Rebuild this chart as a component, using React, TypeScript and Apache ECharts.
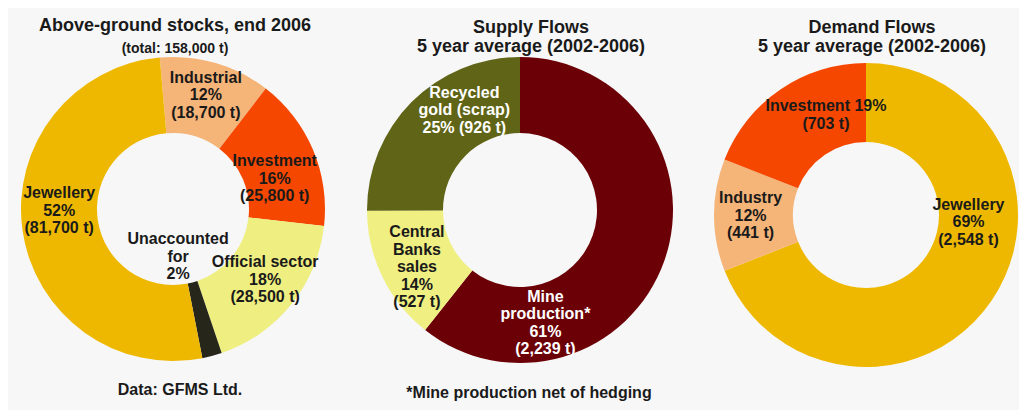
import React, { useEffect, useRef } from 'react';
import * as echarts from 'echarts';

// ---------- DATA ----------
const stocksCategories = ['Industrial', 'Investment', 'Official sector', 'Unaccounted\nfor', 'Jewellery'];
const stocksTonnes = [18700, 25800, 28500, 3300, 81700];
const stocksPercent = [12, 16, 18, 2, 52];
const stocksShowTonnes = [true, true, true, false, true];

const supplyCategories = ['Mine\nproduction*', 'Central\nBanks\nsales', 'Recycled\ngold (scrap)'];
const supplyTonnes = [2239, 527, 926];
const supplyPercent = [61, 14, 25];
const supplyShowTonnes = [true, true, true];

const demandCategories = ['Jewellery', 'Industry', 'Investment'];
const demandTonnes = [2548, 441, 703];
const demandPercent = [69, 12, 19];
const demandShowTonnes = [true, true, true];

const titles = {
  stocks: 'Above-ground stocks, end 2006',
  stocksSub: '(total: 158,000 t)',
  supply: 'Supply Flows\n5 year average (2002-2006)',
  demand: 'Demand Flows\n5 year average (2002-2006)',
  source: 'Data: GFMS Ltd.',
  note: '*Mine production net of hedging',
};

// ---------- STYLE ----------
const FONT = "'Liberation Sans', Arial, Helvetica, sans-serif";
const TEXT = '#1a1a1a';

const stocksColors = ['#f5b478', '#f54700', '#efee80', '#26261a', '#efb800'];
const stocksLabelColors = [TEXT, TEXT, TEXT, TEXT, TEXT];
const stocksPctSep = ['\n', '\n', '\n', '\n', '\n'];
const stocksTonSep = ['\n', '\n', '\n', '\n', '\n'];
const stocksNudge = [[0, -2], [-6, 15], [1, -3], [-25, -66], [2, -15]];

const supplyColors = ['#6b0006', '#efef82', '#5f6416'];
const supplyLabelColors = ['#ffffff', TEXT, '#ffffff'];
const supplyPctSep = ['\n', '\n', '\n'];
const supplyTonSep = ['\n', '\n', ' '];
const supplyNudge = [[-86, 74], [3, 5], [28, -17]];

const demandColors = ['#efb800', '#f5b478', '#f54700'];
const demandLabelColors = [TEXT, TEXT, TEXT];
const demandPctSep = ['\n', '\n', ' '];
const demandTonSep = ['\n', '\n', '\n'];
const demandNudge = [[7, -58], [0, 0], [25, -5]];

const fmt = (v: number) => v.toLocaleString('en-US');

function makePie(
  cats: string[], tonnes: number[], pct: number[], showT: boolean[],
  colors: string[], labelColors: string[], pctSep: string[], tonSep: string[],
  nudge: number[][], center: number[], radius: number[], startAngle: number,
) {
  return {
    type: 'pie',
    center,
    radius,
    startAngle,
    clockwise: true,
    silent: true,
    avoidLabelOverlap: false,
    emphasis: { disabled: true },
    itemStyle: { borderWidth: 0 },
    labelLine: { show: false },
    label: {
      show: true,
      position: 'inside',
      fontFamily: FONT,
      fontSize: 16,
      fontWeight: 'bold',
      lineHeight: 17.5,
      formatter: (p: any) => {
        const i = p.dataIndex;
        let s = cats[i] + pctSep[i] + pct[i] + '%';
        if (showT[i]) s += tonSep[i] + '(' + fmt(tonnes[i]) + ' t)';
        return s;
      },
    },
    labelLayout: (p: any) => ({
      x: p.labelRect.x + p.labelRect.width / 2 + nudge[p.dataIndex][0],
      y: p.labelRect.y + p.labelRect.height / 2 + nudge[p.dataIndex][1],
    }),
    data: cats.map((c, i) => ({
      name: c,
      value: tonnes[i],
      itemStyle: { color: colors[i] },
      label: { color: labelColors[i] },
    })),
  };
}

export default function App() {
  const ref = useRef<HTMLDivElement>(null);
  useEffect(() => {
    if (!ref.current) return;
    const chart = echarts.init(ref.current, undefined, { renderer: 'svg' });
    const titleStyle = { fontFamily: FONT, fontWeight: 'bold', color: TEXT };
    chart.setOption({
      animation: false,
      backgroundColor: '#f7f7f7',
      title: [
        {
          text: titles.stocks, subtext: titles.stocksSub,
          left: 167, top: 7, textAlign: 'center', padding: 0, itemGap: 5,
          textStyle: { ...titleStyle, fontSize: 18, lineHeight: 20 },
          subtextStyle: { ...titleStyle, fontSize: 14, lineHeight: 16 },
        },
        {
          text: titles.supply, left: 523, top: 9, textAlign: 'center', padding: 0,
          textStyle: { ...titleStyle, fontSize: 18, lineHeight: 19 },
        },
        {
          text: titles.demand, left: 864, top: 9, textAlign: 'center', padding: 0,
          textStyle: { ...titleStyle, fontSize: 18, lineHeight: 19 },
        },
        {
          text: titles.source, left: 172, top: 372, textAlign: 'center', padding: 0,
          textStyle: { ...titleStyle, fontSize: 16, lineHeight: 18 },
        },
        {
          text: titles.note, left: 521, top: 375, textAlign: 'center', padding: 0,
          textStyle: { ...titleStyle, fontSize: 16, lineHeight: 18 },
        },
      ],
      series: [
        makePie(stocksCategories, stocksTonnes, stocksPercent, stocksShowTonnes,
          stocksColors, stocksLabelColors, stocksPctSep, stocksTonSep, stocksNudge,
          [165, 201], [76, 152], 95),
        makePie(supplyCategories, supplyTonnes, supplyPercent, supplyShowTonnes,
          supplyColors, supplyLabelColors, supplyPctSep, supplyTonSep, supplyNudge,
          [512, 202], [77, 153], 90),
        makePie(demandCategories, demandTonnes, demandPercent, demandShowTonnes,
          demandColors, demandLabelColors, demandPctSep, demandTonSep, demandNudge,
          [858, 207], [73, 152], 90),
      ],
    });
    return () => chart.dispose();
  }, []);
  return (
    <div style={{ position: 'fixed', left: 0, top: 0, width: 1019, height: 410, background: '#ffffff', overflow: 'hidden' }}>
      <div ref={ref} style={{ position: 'absolute', left: 8, top: 8, width: 1011, height: 402 }} />
    </div>
  );
}
